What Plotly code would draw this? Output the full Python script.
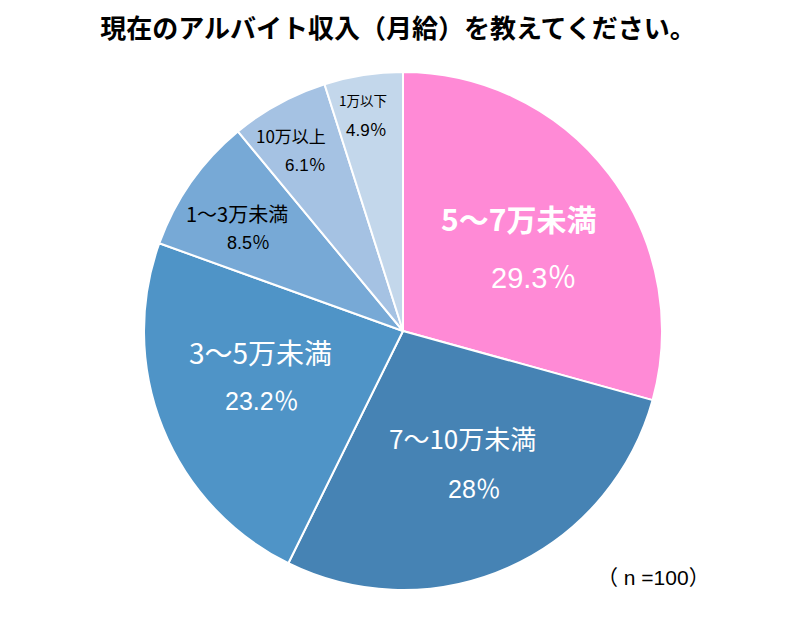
import plotly.graph_objects as go

labels = ["5～7万未満", "7～10万未満", "3～5万未満", "1～3万未満", "10万以上", "1万以下"]
values = [29.3, 28.0, 23.2, 8.5, 6.1, 4.9]
pct_text = ["29.3％", "28％", "23.2％", "8.5％", "6.1％", "4.9％"]
colors = ["#FF8AD6", "#4683B4", "#4F94C7", "#77A9D6", "#A5C2E3", "#C3D7EB"]

W, H = 800, 627
cx, cy, r = 403, 331, 259

fig = go.Figure(go.Pie(
    labels=labels, values=values, sort=False, direction="clockwise", rotation=0,
    marker=dict(colors=colors, line=dict(color="white", width=2)),
    textinfo="none", hoverinfo="label+percent",
    domain=dict(x=[(cx - r) / W, (cx + r) / W], y=[1 - (cy + r) / H, 1 - (cy - r) / H]),
    showlegend=False,
))

# label positions (pixels): name line, pct line
label_pos = [((518, 218), (533, 278)), ((462, 437), (474, 489)), ((260, 352), (262, 401)),
             ((237, 213), (248, 243)), ((291, 136), (305, 166)), ((363, 100), (366, 130))]
label_style = [(30, "white", True), (26, "white", False), (28, "white", False),
               (20, "black", False), (17, "black", False), (13.5, "black", False)]
pct_size = [29, 25, 25, 18, 17, 17]

for i, lab in enumerate(labels):
    (nx, ny), (px, py) = label_pos[i]
    size, col, bold = label_style[i]
    txt = f"<b>{lab}</b>" if bold else lab
    fig.add_annotation(x=nx / W, y=1 - ny / H, xref="paper", yref="paper", text=txt,
                       xanchor="center", yanchor="middle",
                       showarrow=False, font=dict(size=size, color=col, family="Noto Sans CJK JP"))
    fig.add_annotation(x=px / W, y=1 - py / H, xref="paper", yref="paper", text=pct_text[i],
                       xanchor="center", yanchor="middle",
                       showarrow=False, font=dict(size=pct_size[i], color=col,
                                                  family="Liberation Sans, Noto Sans CJK JP"))

fig.add_annotation(x=653 / W, y=1 - 577 / H, xref="paper", yref="paper", text="（ n =100）",
                   xanchor="center", yanchor="middle",
                   showarrow=False, font=dict(size=21, color="black", family="Liberation Sans, Noto Sans CJK JP"))

fig.update_layout(
    width=W, height=H, margin=dict(l=0, r=0, t=0, b=0),
    paper_bgcolor="white", plot_bgcolor="white",
    title=dict(text="<b>現在のアルバイト収入（月給）を教えてください。</b>", x=398 / W, xanchor="center",
               y=1 - 29 / H, yanchor="middle",
               font=dict(size=26, color="black", family="Noto Sans CJK JP")),
)

fig.write_html("out.html", config={"displayModeBar": False},
               post_script="document.body.style.margin='0';")
